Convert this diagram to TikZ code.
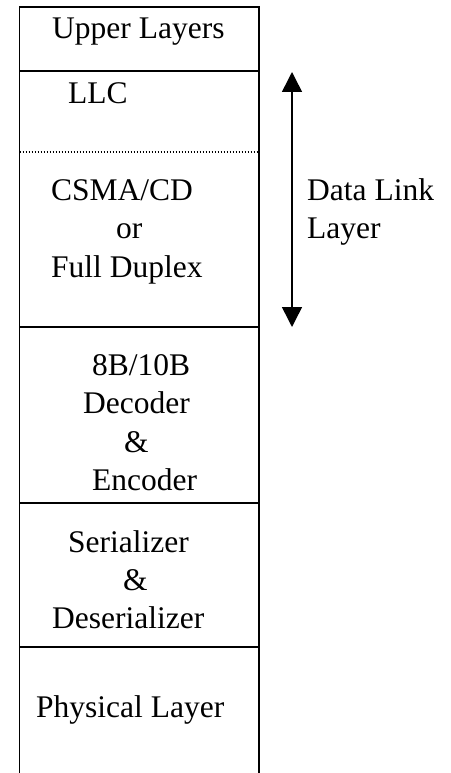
\documentclass[tikz,border=0pt]{standalone}
\usepackage{fontspec}
\setmainfont{Liberation Serif}
\usetikzlibrary{arrows.meta}
\begin{document}
\begin{tikzpicture}[x=1pt,y=-1pt,
  boxline/.style={line width=1.8pt,black},
  dotline/.style={line width=1.4pt,dash pattern=on 1.2pt off 1.8pt},
  lbl/.style={anchor=base west,inner sep=0pt,font=\fontsize{31.5}{38.5}\selectfont},
  dlarrow/.style={line width=1.5pt,{Triangle[width=20pt,length=20pt]}-{Triangle[width=20pt,length=20pt]}}]
\useasboundingbox (0,0) rectangle (450,773);
% stack outline (open at the bottom)
\draw[boxline] (19.5,773) -- (19.5,7) -- (259,7) -- (259,773);
\draw[boxline] (19.5,71) -- (259,71);
\draw[dotline] (19.5,152) -- (259,152);
\draw[boxline] (19.5,327) -- (259,327);
\draw[boxline] (19.5,503) -- (259,503);
\draw[boxline] (19.5,647) -- (259,647);
% texts
\node[lbl] (upper) at (52,39) {Upper Layers};
\node[lbl] (llc) at (68,103) {LLC};
\node[lbl] (csma) at (51,200) {CSMA/CD};
\node[lbl] (or) at (116,238) {or};
\node[lbl] (full) at (51,277) {Full Duplex};
\node[lbl] (dl1) at (307,200) {Data Link};
\node[lbl] (dl2) at (307,238) {Layer};
\node[lbl] (enc1) at (92,375) {8B/10B};
\node[lbl] (enc2) at (83,413) {Decoder};
\node[lbl] (enc3) at (124,452) {\&};
\node[lbl] (enc4) at (92,490) {Encoder};
\node[lbl] (ser1) at (68,552) {Serializer};
\node[lbl] (ser2) at (123,590) {\&};
\node[lbl] (ser3) at (52,628) {Deserializer};
\node[lbl] (phy) at (36,717) {Physical Layer};
% data link arrow
\coordinate (atop) at (292,72);
\coordinate (abot) at (292,327);
\draw[dlarrow] (atop) -- (abot);
\end{tikzpicture}
\end{document}
